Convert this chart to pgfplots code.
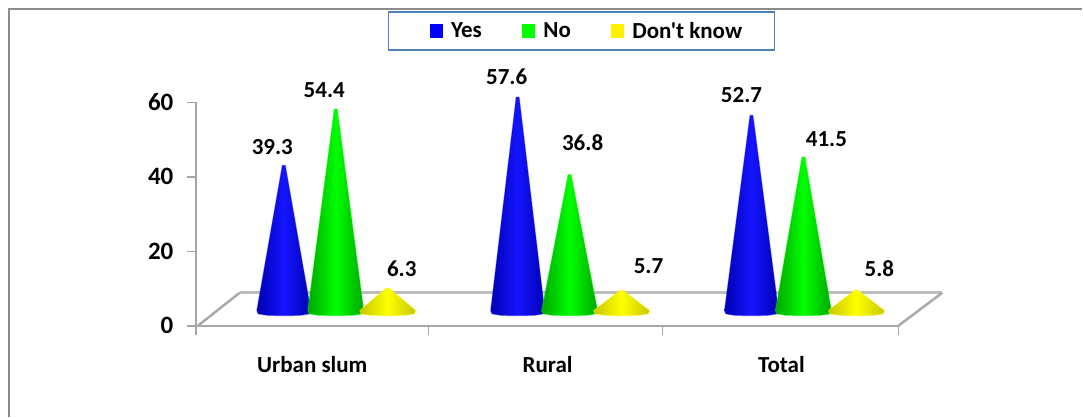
\documentclass[border=0pt]{standalone}
\usepackage{pgfplots}
\pgfplotsset{compat=1.18}
\usepackage{fontspec}
\setmainfont{Carlito}[Ligatures=TeXOff]
\definecolor{axisgray}{HTML}{A6A6A6}
\definecolor{floorgray}{HTML}{BDBDBD}
\definecolor{framegray}{HTML}{8C8C8C}
\definecolor{legendblue}{HTML}{4F81BD}
\newcommand{\chartfont}{\fontsize{23}{23}\selectfont\bfseries}

% One cone: x centre, value, half width, rim colour, core colour.
% Tips stand on the raised floor, 3.8 units above the zero line.
\newcommand{\cone}[5]{%
  \addplot[forget plot,draw=#5,draw opacity=0.4,line width=1pt,left color=#4,right color=#4,middle color=#5]
    coordinates {(#1-1.5,#2+3.8)(#1+1.5,#2+3.8)(#1+#3,4.1)(#1+0.95*#3,3.2)(#1+0.6*#3,2.8)(#1,2.7)
                 (#1-0.6*#3,2.8)(#1-0.95*#3,3.2)(#1-#3,4.1)} -- cycle;
}
\newcommand{\vlabel}[3]{\node[font=\chartfont] at (axis cs:#1,#2) {#3};}

\begin{document}
\begin{tikzpicture}
\begin{axis}[
  scale only axis, width=703pt, height=223.5pt,
  xmin=196, xmax=899, ymin=0, ymax=60,
  clip=false,
  axis lines=left,
  axis line style={-,axisgray,line width=1.5pt},
  tick style={axisgray,line width=1.5pt},
  major tick length=9pt,
  tick align=outside,
  xtick={196,429,663,899}, xticklabels={},
  extra x ticks={312.5,548,782},
  extra x tick labels={Urban slum,Rural,Total},
  extra x tick style={major tick length=0pt},
  ytick={0,20,40,60},
  /pgf/number format/assume math mode=true,
  tick label style={font=\chartfont,black},
  xticklabel style={yshift=-27pt},
  yticklabel style={xshift=-10pt,font=\fontsize{25}{25}\selectfont\bfseries},
  legend columns=3,
  legend style={
    at={(axis cs:582,79.2)},anchor=center,
    draw=legendblue,line width=1.5pt,
    inner xsep=41pt,inner ysep=8pt,
    font=\chartfont,
    /tikz/every even column/.append style={column sep=38pt},
  },
  legend image code/.code={\fill[#1,draw=none] (0pt,-7pt) rectangle (13.5pt,7pt);\path[draw=none,fill=none] (13.5pt,0pt) -- (19.5pt,0pt);},
]
% Page frame and extent of the drawing
\path (axis cs:0,-24.43) rectangle (axis cs:1083,87.52);
\addplot[forget plot,framegray,line width=1.5pt] coordinates {(9,-24.43)(9,85.1)(1083,85.1)};

% Floor
\addplot[forget plot,floorgray,line width=3pt] coordinates {(240,8.9)(943,8.9)};
\addplot[forget plot,floorgray!90!black,line width=2.5pt] coordinates {(198,0)(240,8.9)};
\addplot[forget plot,floorgray!90!black,line width=2.5pt] coordinates {(899,0)(943,8.9)};

% Cones
\cone{284}{39.3}{27}{blue!70!black}{blue!92!white}
\cone{336}{54.4}{28}{green!65!black}{green}
\cone{388}{6.3}{28}{yellow!78!black}{yellow}
\cone{518}{57.6}{27}{blue!70!black}{blue!92!white}
\cone{570}{36.8}{28}{green!65!black}{green}
\cone{622}{5.7}{28}{yellow!78!black}{yellow}
\cone{752}{52.7}{27}{blue!70!black}{blue!92!white}
\cone{804}{41.5}{28}{green!65!black}{green}
\cone{857}{5.8}{28}{yellow!78!black}{yellow}

% Value labels
\vlabel{272.5}{48}{39.3}
\vlabel{324.5}{63.4}{54.4}
\vlabel{402}{15.3}{6.3}
\vlabel{507}{66.8}{57.6}
\vlabel{583}{49.1}{36.8}
\vlabel{649}{16.1}{5.7}
\vlabel{742}{62}{52.7}
\vlabel{827}{50.2}{41.5}
\vlabel{880}{15.3}{5.8}

% Legend entries
\addlegendimage{blue}\addlegendentry{Yes}
\addlegendimage{green}\addlegendentry{No}
\addlegendimage{yellow}\addlegendentry{Don't know\hspace*{-10.5pt}}
\end{axis}
\end{tikzpicture}
\end{document}
